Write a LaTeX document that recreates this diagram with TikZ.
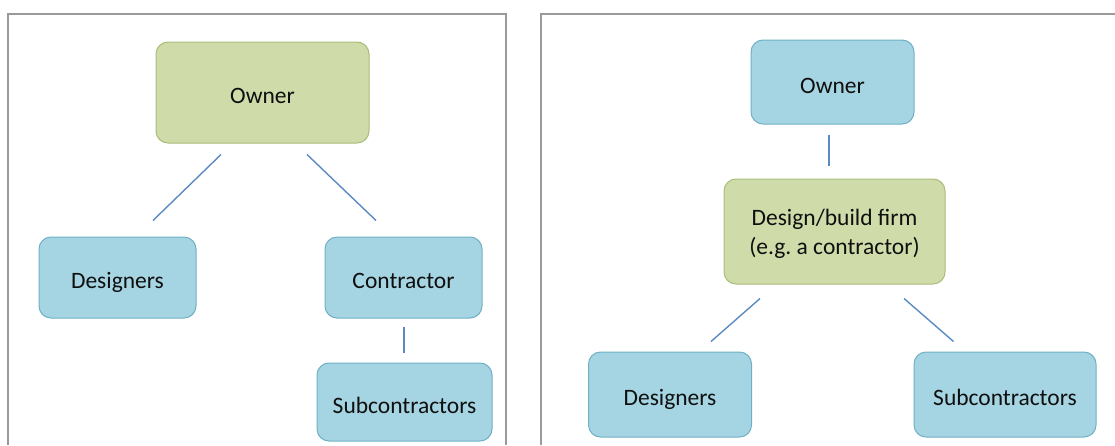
\documentclass[tikz,border=0pt]{standalone}
\usepackage{fontspec}
\setmainfont{Carlito}
\usepackage{tikz}
\usetikzlibrary{positioning}
\definecolor{panelgray}{RGB}{154,154,154}
\definecolor{ownergreen}{RGB}{207,220,170}
\definecolor{ownerline}{RGB}{170,188,122}
\definecolor{partyblue}{RGB}{165,213,226}
\definecolor{partyline}{RGB}{112,176,198}
\definecolor{linkblue}{RGB}{92,138,196}
\definecolor{inkblack}{RGB}{15,15,15}

\begin{document}
\begin{tikzpicture}[x=1pt, y=-1pt,
      block/.style={rectangle, draw=partyline, line width=1pt, rounded corners=12pt,
                    fill=partyblue, align=center, text=inkblack,
                    font=\fontsize{23.5}{29}\selectfont\frenchspacing, inner sep=0pt,
                    text height=22pt, text depth=0pt},
      lead/.style={block, draw=ownerline, fill=ownergreen},
      panel/.style={draw=panelgray, line width=1.6pt},
      link/.style={draw=linkblue, line width=1.4pt}
    ]
    \useasboundingbox (0,0) rectangle (1115,445);
    \fill[white] (0,0) rectangle (1115,445);

    % traditional arrangement
    \draw[panel] (8,445) -- (8,14) -- (506,14) -- (506,445);
    \node[lead, minimum width=213pt, minimum height=101pt] (own) at (262.5,92.5) {Owner};
    \node[block, minimum width=157pt, minimum height=81pt] (des) at (117.5,277.5) {Designers};
    \node[block, minimum width=157pt, minimum height=81pt] (con) at (403.5,277.5) {Contractor};
    \node[block, minimum width=175pt, minimum height=78pt] (sub) at (404.5,402) {Subcontractors};

    \draw[link] ([xshift=-41.5pt, yshift=-11pt]own.south) -- ([xshift=35.5pt, yshift=16pt]des.north);
    \draw[link] ([xshift=44.5pt, yshift=-11pt]own.south) -- ([xshift=-27.5pt, yshift=16pt]con.north);
    \draw[link] ([xshift=0.5pt, yshift=-8pt]con.south) -- ([xshift=-0.5pt, yshift=10pt]sub.north);

    % design/build arrangement
    \draw[panel] (541,445) -- (541,14) -- (1115,14);
    \node[block, minimum width=163pt, minimum height=84pt] (dbown) at (832.5,82) {Owner};
    \node[lead, minimum width=221pt, minimum height=105pt, text height=46pt] (firm) at (834.5,231.5) {Design/build firm\\(e.g. a contractor)};
    \node[block, minimum width=163pt, minimum height=85pt] (dbdes) at (670,394.5) {Designers};
    \node[block, minimum width=182pt, minimum height=85pt] (dbsub) at (1005,394.5) {Subcontractors};

    \draw[link] ([xshift=-3.5pt, yshift=-10pt]dbown.south) -- ([xshift=-5.5pt, yshift=13pt]firm.north);
    \draw[link] ([xshift=-74.5pt, yshift=-14pt]firm.south) -- ([xshift=41pt, yshift=10pt]dbdes.north);
    \draw[link] ([xshift=69.5pt, yshift=-14pt]firm.south) -- ([xshift=-51.5pt, yshift=10pt]dbsub.north);
  \end{tikzpicture}
\end{document}
